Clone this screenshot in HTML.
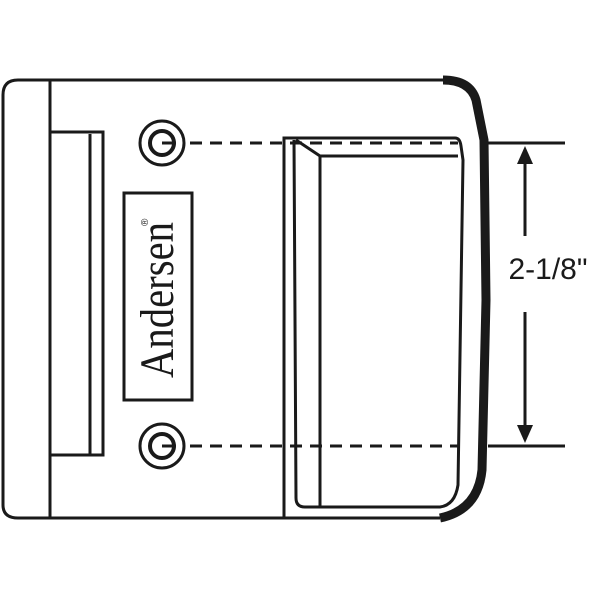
<!DOCTYPE html>
<html><head><style>body{margin:0;background:#fff}svg{display:block}</style></head><body>
<svg width="600" height="600" viewBox="0 0 600 600" xmlns="http://www.w3.org/2000/svg">
<g fill="none" stroke="#1a1a1a" stroke-width="3">
<path d="M448,80 L18,80 Q3,80 3,95 L3,505 Q3,518 18,518 L440,518"/>
<path d="M443,80 Q470,80 476,100 L484,140 L486,300 L482,470 Q478,510 440,518" stroke-width="9"/>
<line x1="50" y1="80" x2="50" y2="518"/>
<path d="M50,132 L103,132 L103,455 L50,455"/>
<line x1="90" y1="134" x2="90" y2="455"/>
<circle cx="162" cy="143" r="22"/>
<circle cx="162" cy="143" r="12" stroke-width="4"/>
<line x1="162" y1="143" x2="176" y2="143"/>
<circle cx="162" cy="446" r="22"/>
<circle cx="162" cy="446" r="12" stroke-width="4"/>
<line x1="162" y1="446" x2="176" y2="446"/>
<rect x="124" y="193" width="68" height="207"/>
<path d="M284,518 L284,138 L455,138 Q460,138 461,146 L463,160 L458,485 Q455,505 440,507 L305,507 Q296,507 296,498 L294,140"/>
<path d="M296,140 L320,156 L458,156"/>
<line x1="320" y1="156" x2="320" y2="507"/>
<line x1="190" y1="143" x2="458" y2="143" stroke-dasharray="12,8"/>
<line x1="190" y1="446" x2="460" y2="446" stroke-dasharray="12,8"/>
<line x1="488" y1="143" x2="565" y2="143"/>
<line x1="488" y1="446" x2="565" y2="446"/>
<line x1="525" y1="158" x2="525" y2="236"/>
<line x1="525" y1="312" x2="525" y2="432"/>
</g>
<polygon points="525,146 517,164 533,164" fill="#1a1a1a"/>
<polygon points="525,443 517,425 533,425" fill="#1a1a1a"/>
<text x="548" y="279" font-family="Liberation Sans, sans-serif" font-size="30" text-anchor="middle" fill="#1a1a1a">2-1/8"</text>
<text transform="translate(173,378) rotate(-90)" font-family="Liberation Serif, serif" font-size="48" textLength="156" lengthAdjust="spacingAndGlyphs" fill="#1a1a1a">Andersen</text>
<text transform="translate(148,226) rotate(-90)" font-family="Liberation Sans, sans-serif" font-size="10" fill="#1a1a1a">®</text>
</svg>
</body></html>
